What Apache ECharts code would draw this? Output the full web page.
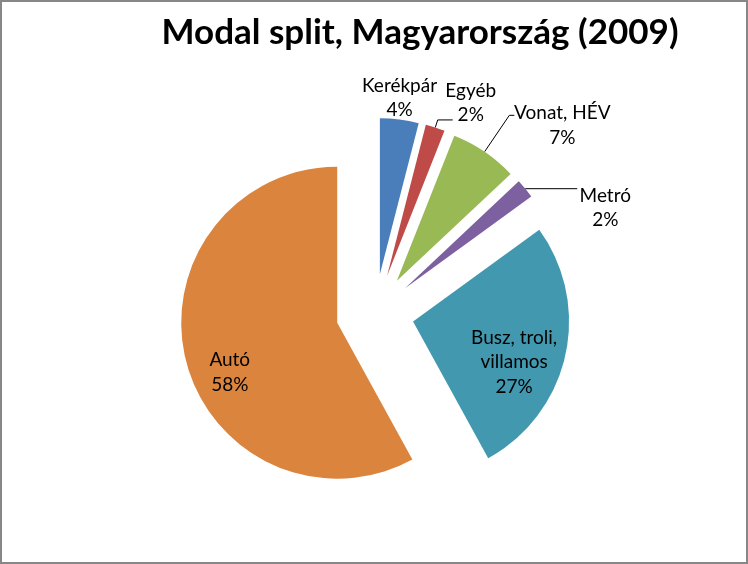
<!DOCTYPE html>
<html>
<head>
<meta charset="utf-8">
<script src="https://cdn.jsdelivr.net/npm/echarts@6/dist/echarts.min.js"></script>
<style>
  html, body { margin: 0; padding: 0; background: #fff; }
  #chart { position: absolute; left: 0; top: 0; width: 748px; height: 564px; }
  #frame { position: absolute; left: 0; top: 0; width: 748px; height: 564px;
           box-sizing: border-box; border: 2px solid #878787; pointer-events: none; }
</style>
</head>
<body>
<div id="chart"></div>
<div id="frame"></div>
<script>
var chartTitle = 'Modal split, Magyarország (2009)'
var categories = ['Kerékpár', 'Egyéb', 'Vonat, HÉV', 'Metró', 'Busz, troli, villamos', 'Autó']
var shares = [4, 2, 7, 2, 27, 58] // %
var colors = ['#4a7ebb', '#be4b48', '#98b954', '#7d60a0', '#4198af', '#db843d']

// label placement, Excel style (leader lengths, nudges)
// Kerékpár sits above its slice with no leader, so it is nudged from the inside anchor
var labelSetup = [
  { pos: 'inside', width: 80, pad: [0, 0, 192, 19] },
  { pos: 'outside', len: 8, len2: 15, dist: -7, width: 50, pad: [0, 0, 34, 0] },
  { pos: 'outside', len: 44, len2: 5, dist: -1, width: 98, pad: [20, 0, 0, 0] },
  { pos: 'outside', len: 0, len2: 52, dist: 0, width: 56, pad: [38, 0, 0, 0] },
  { pos: 'inside', width: 110, pad: [46, 10, 0, 54] },
  { pos: 'inside', width: 60, pad: [59, 58, 0, 0] }
]

var fontFamily = 'Lato, "Open Sans", sans-serif'

function labelText(name, value) {
  var lines = name.replace('troli, ', 'troli,\n').split('\n')
  lines.push(value + '%')
  return lines.map(function(l) { return '{c|' + l + '}' }).join('\n')
}

var pieData = categories.map(function(name, i) {
  var s = labelSetup[i]
  var item = {
    name: name,
    value: shares[i],
    selected: true,
    itemStyle: { color: colors[i] },
    label: {
      position: s.pos,
      padding: s.pad,
      rich: { c: { width: s.width, align: 'center', fontSize: 19, lineHeight: 24.5, color: '#000', fontFamily: fontFamily } }
    }
  }
  if (s.pos === 'outside') {
    item.label.distanceToLabelLine = s.dist
    item.labelLine = { show: true, length: s.len, length2: s.len2 }
  }
  return item
})

var chart = echarts.init(document.getElementById('chart'))
chart.setOption({
  animation: false,
  title: {
    text: chartTitle,
    left: 420,
    top: 15,
    padding: 0,
    textAlign: 'center',
    textStyle: { fontFamily: fontFamily, fontWeight: 'bold', fontSize: 35, color: '#000' }
  },
  series: [
    {
      type: 'pie',
      center: [375, 313],
      radius: 156,
      startAngle: 90,
      clockwise: true,
      selectedMode: 'multiple',
      selectedOffset: 39,
      avoidLabelOverlap: false,
      minShowLabelAngle: 0,
      labelLayout: { hideOverlap: false },
      emphasis: { disabled: true },
      label: {
        formatter: function(p) { return labelText(p.name, p.value) }
      },
      labelLine: {
        smooth: false,
        lineStyle: { color: '#000', width: 1 }
      },
      data: pieData
    }
  ]
})
</script>
</body>
</html>
